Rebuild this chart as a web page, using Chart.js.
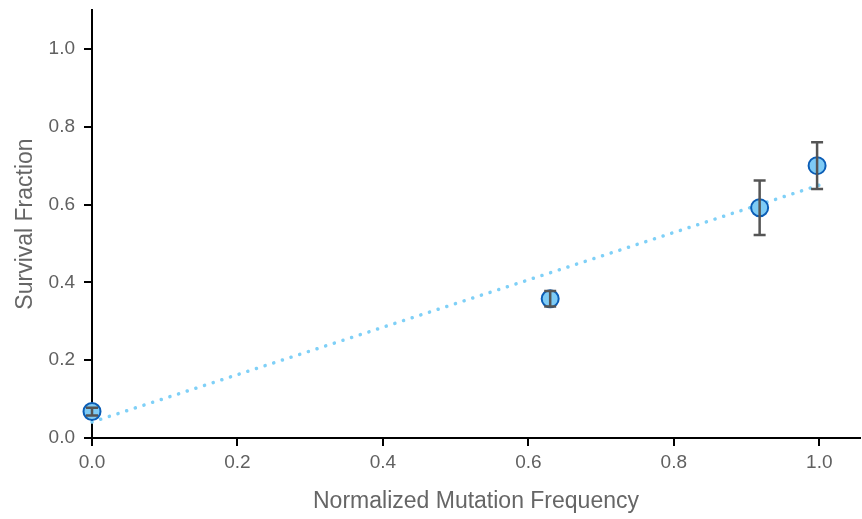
<!DOCTYPE html>
<html>
<head>
<meta charset="utf-8">
<script src="https://cdn.jsdelivr.net/npm/chart.js@4/dist/chart.umd.min.js"></script>
<style>
  html, body { margin: 0; padding: 0; background: #fff; }
  #wrap { width: 862px; height: 519px; }
</style>
</head>
<body>
<div id="wrap"><canvas id="chart"></canvas></div>
<script>
// data
const mutationFreq = [0.0, 0.63, 0.918, 0.997];
const survival = [0.068, 0.358, 0.592, 0.70];
const survivalErr = [0.01, 0.02, 0.07, 0.06];
const fitX = [0.0, 1.0];
const fitY = [0.041, 0.65];

const tickFont = { family: '"Liberation Sans", Arial, sans-serif', size: 19 };
const titleFont = { family: '"Liberation Sans", Arial, sans-serif', size: 23 };

// vertical error bars with caps, drawn on top of the points
const errorBars = {
    id: 'errorBars',
    afterDatasetsDraw(chart) {
        const ctx = chart.ctx;
        const xs = chart.scales.x, ys = chart.scales.y;
        ctx.save();
        ctx.strokeStyle = '#555555';
        ctx.lineWidth = 2.5;
        mutationFreq.forEach((x, i) => {
            const px = xs.getPixelForValue(x);
            const top = ys.getPixelForValue(survival[i] + survivalErr[i]);
            const bot = ys.getPixelForValue(survival[i] - survivalErr[i]);
            ctx.beginPath();
            ctx.moveTo(px, top); ctx.lineTo(px, bot);
            ctx.moveTo(px - 6, top); ctx.lineTo(px + 6, top);
            ctx.moveTo(px - 6, bot); ctx.lineTo(px + 6, bot);
            ctx.stroke();
        });
        ctx.restore();
    }
};

new Chart(document.getElementById('chart'), {
    type: 'scatter',
    data: {
        datasets: [
            {
                type: 'scatter',
                data: mutationFreq.map((x, i) => ({ x: x, y: survival[i] })),
                backgroundColor: '#7ecbf5',
                borderColor: '#0b5db6',
                borderWidth: 2,
                pointRadius: 8.5,
                clip: false,
                order: 1
            },
            {
                type: 'line',
                data: fitX.map((x, i) => ({ x: x, y: fitY[i] })),
                borderColor: '#7fd0f7',
                borderWidth: 3.5,
                borderCapStyle: 'round',
                borderDash: [0.1, 9],
                pointRadius: 0,
                fill: false,
                clip: false,
                order: 2
            }
        ]
    },
    options: {
        responsive: true,
        maintainAspectRatio: false,
        animation: false,
        layout: { autoPadding: false, padding: { top: 10, right: 2, left: 0, bottom: 0 } },
        plugins: {
            legend: { display: false },
            tooltip: { enabled: false }
        },
        scales: {
            x: {
                type: 'linear',
                min: 0,
                max: 1.056,
                afterFit(scale) {
                    scale.height = 81;
                    scale.paddingLeft = 0;
                    scale.paddingRight = 0;
                },
                border: { color: '#000', width: 2 },
                grid: { drawOnChartArea: false, drawTicks: true, tickLength: 8, color: '#000', lineWidth: 2 },
                ticks: {
                    stepSize: 0.2,
                    includeBounds: false,
                    color: '#606060',
                    font: tickFont,
                    padding: 5,
                    maxRotation: 0,
                    callback: v => v.toFixed(1)
                },
                title: {
                    display: true,
                    text: 'Normalized Mutation Frequency',
                    color: '#666',
                    font: titleFont,
                    padding: { top: 12 }
                }
            },
            y: {
                type: 'linear',
                min: 0,
                max: 1.1,
                afterFit(scale) {
                    scale.width = 92;
                    scale.paddingTop = 0;
                    scale.paddingBottom = 0;
                },
                border: { color: '#000', width: 2 },
                grid: { drawOnChartArea: false, drawTicks: true, tickLength: 8, color: '#000', lineWidth: 2 },
                ticks: {
                    stepSize: 0.2,
                    includeBounds: false,
                    color: '#606060',
                    font: tickFont,
                    padding: 9,
                    callback: v => v.toFixed(1)
                },
                title: {
                    display: true,
                    text: 'Survival Fraction',
                    color: '#666',
                    font: titleFont,
                    padding: { top: 12, bottom: 4 }
                }
            }
        }
    },
    plugins: [errorBars]
});
</script>
</body>
</html>
